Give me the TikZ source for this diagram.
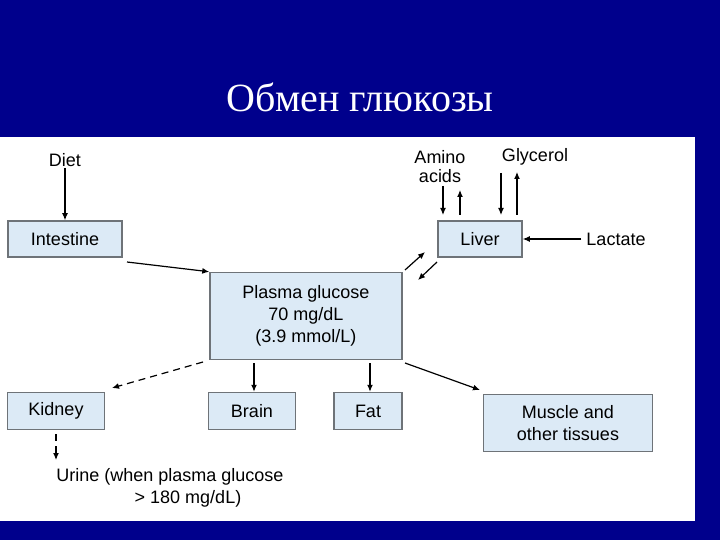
\documentclass[tikz,border=0pt]{standalone}
\usepackage{fontspec}
\usetikzlibrary{arrows.meta}
\setmainfont{Liberation Serif}
\setsansfont{Liberation Sans}
\definecolor{bg}{RGB}{0,0,140}
\definecolor{bf}{RGB}{220,234,246}
\definecolor{bd}{RGB}{110,115,120}
\begin{document}
\begin{tikzpicture}[x=1pt,y=-1pt,
  bx/.style={draw=bd,line width=1.5pt,fill=bf,font=\sffamily\fontsize{18}{22}\selectfont,align=center,inner sep=0pt},
  lbl/.style={font=\sffamily\fontsize{18}{19}\selectfont,align=center,inner sep=1pt},
  ar/.style={-{Latex[length=7pt,width=6pt]},line width=1.2pt},
  dar/.style={ar,dash pattern=on 7pt off 5pt}]
\useasboundingbox (0,0) rectangle (720,540);
\fill[bg] (0,0) rectangle (720,540);
\fill[white] (0,137) rectangle (695,521);
\node[font=\fontsize{40}{44}\selectfont,text=white] (title) at (360,97) {Обмен глюкозы};
\node[bx,minimum width=114pt,minimum height=36pt] (int) at (65,239) {Intestine};
\node[bx,minimum width=84pt,minimum height=36pt] (liv) at (480,239) {Liver};
\node[bx,minimum width=192pt,minimum height=87pt] (pla) at (306,316) {Plasma glucose\\70 mg/dL\\(3.9 mmol/L)};
\node[bx,minimum width=97pt,minimum height=37pt] (kid) at (56,411) {Kidney};
\node[bx,minimum width=87pt,minimum height=37pt] (bra) at (252,411) {Brain};
\node[bx,minimum width=68pt,minimum height=37pt] (fat) at (368,411) {Fat};
\node[bx,minimum width=169pt,minimum height=57pt] (mus) at (568,423) {Muscle and\\other tissues};
\node[lbl] (diet) at (65,160) {Diet};
\node[lbl] (ami) at (440,167) {Amino\\acids};
\node[lbl] (gly) at (535,157) {Glycerol};
\node[lbl] (lac) at (616,239) {Lactate};
\node[lbl,font=\sffamily\fontsize{18}{22}\selectfont] (uri) at (170,488) {Urine (when plasma glucose\\\hspace*{2em}> 180 mg/dL)};
\coordinate (bt) at (254,363);
\coordinate (ft) at (370,363);
\draw[ar] (diet) -- (int);
\draw[ar] (443,186) -- (443,215);
\draw[ar] (460,215) -- (460,190);
\draw[ar] (501,173) -- (501,215);
\draw[ar] (517,215) -- (517,172);
\draw[ar] (lac.west) ++(-4,0) -- (liv.east);
\draw[ar] (127,262) -- (pla.north west);
\draw[ar] (405,270) -- (425,252);
\draw[ar] (437,262) -- (418,280);
\draw[dar] (203,362) -- (112,388);
\draw[ar] (bt) -- (bt |- bra.north);
\draw[ar] (ft) -- (ft |- fat.north);
\draw[ar] (405,363) -- (480,390);
\draw[dar] (56,434) -- (56,460);
\end{tikzpicture}
\end{document}
